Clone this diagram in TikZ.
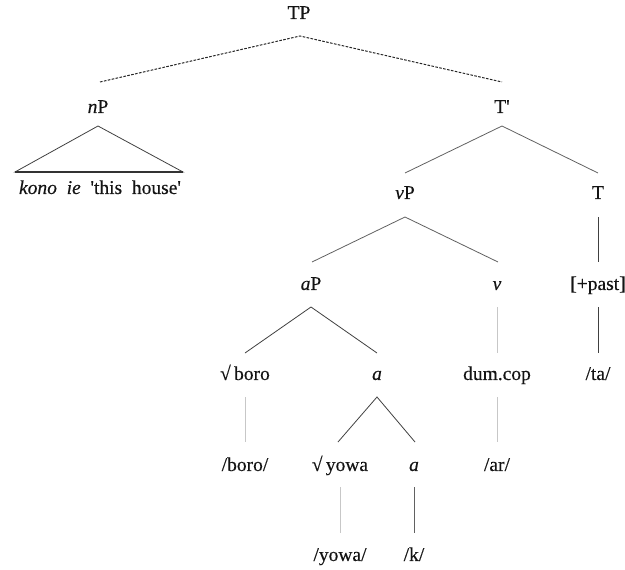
\documentclass[tikz,border=0pt]{standalone}
\usepackage{fontspec}
\setmainfont[FakeBold=0.35]{Liberation Serif}
\usetikzlibrary{calc}

\tikzset{
  lab/.style={inner sep=0pt, text height=1.6ex, text depth=.3ex, text=black!92,
              font=\fontsize{19.5}{22}\selectfont},
  darkline/.style={draw=black!75, line width=0.8pt},
  midline/.style={draw=black!62, line width=0.8pt},
  paleline/.style={draw=black!22, line width=0.8pt},
  dashline/.style={draw=black!85, line width=1pt, dash pattern=on 2.6pt off 1.4pt}
}
% branch from a mother node (drop below it) to a daughter node (rise above it)
\newcommand{\treeedge}[5]{\draw[#1] ($(#2)+(0,#4)$) -- ($(#3)+(0,-#5)$);}

\begin{document}
\begin{tikzpicture}[x=1pt,y=-1pt]
  \useasboundingbox (0,0) rectangle (625,570);

  % nodes
  \node[lab] (TP)    at (299,16)  {TP};
  \node[lab] (nP)    at (98,110)  {\textit{n}P};
  \node[lab] (Tbar)  at (502,110) {T\textquotesingle};
  \node[lab] (kono)  at (100,191) {\textit{kono}\ \ \textit{ie}\ \ \textquotesingle this\ \ house\textquotesingle};
  \node[lab] (vP)    at (405,196) {\textit{v}P};
  \node[lab] (T)     at (598,196) {T};
  \node[lab] (aP)    at (311,287) {\textit{a}P};
  \node[lab] (v)     at (497,287) {\textit{v}};
  \node[lab] (past)  at (598,287) {[+past]};
  \node[lab] (boro)  at (245,377) {√\,boro};
  \node[lab] (a1)    at (377,377) {\textit{a}};
  \node[lab] (dum)   at (497,377) {dum.cop};
  \node[lab] (ta)    at (598,377) {/ta/};
  \node[lab] (boroP) at (245,468) {/boro/};
  \node[lab] (yowa)  at (340,468) {√\,yowa};
  \node[lab] (a2)    at (414,468) {\textit{a}};
  \node[lab] (ar)    at (497,468) {/ar/};
  \node[lab] (yowaP) at (340,558) {/yowa/};
  \node[lab] (k)     at (414,558) {/k/};

  % TP
  \draw[dashline] ($(nP)+(2,-28)$) -- ($(TP)+(1,20)$) -- ($(Tbar)+(0,-28)$);

  % nP triangle over the phrase, with a heavier base
  \draw[darkline] ($(nP)+(0,16)$) -- ($(kono)+(-85,-19)$) -- ($(kono)+(83,-19)$) -- cycle;
  \draw[draw=black!80, line width=1.4pt] ($(kono)+(-85,-19)$) -- ($(kono)+(83,-19)$);

  % T'
  \draw[midline] ($(vP)+(0,-23)$) -- ($(Tbar)+(0,16)$) -- ($(T)+(0,-23)$);

  % vP
  \draw[midline] ($(aP)+(1,-25)$) -- ($(vP)+(0,21)$) -- ($(v)+(1,-25)$);
  \treeedge{darkline}{T}{past}{21}{25}

  % aP
  \draw[darkline] ($(boro)+(0,-24)$) -- ($(aP)+(0,20)$) -- ($(a1)+(0,-24)$);
  \treeedge{paleline}{v}{dum}{20}{24}
  \treeedge{darkline}{past}{ta}{20}{24}

  % roots and exponents
  \treeedge{paleline}{boro}{boroP}{20}{26}
  \draw[darkline] ($(yowa)+(-2,-26)$) -- ($(a1)+(0,20)$) -- ($(a2)+(1,-26)$);
  \treeedge{paleline}{dum}{ar}{20}{26}
  \treeedge{paleline}{yowa}{yowaP}{19}{25}
  \treeedge{midline}{a2}{k}{19}{25}
\end{tikzpicture}
\end{document}
